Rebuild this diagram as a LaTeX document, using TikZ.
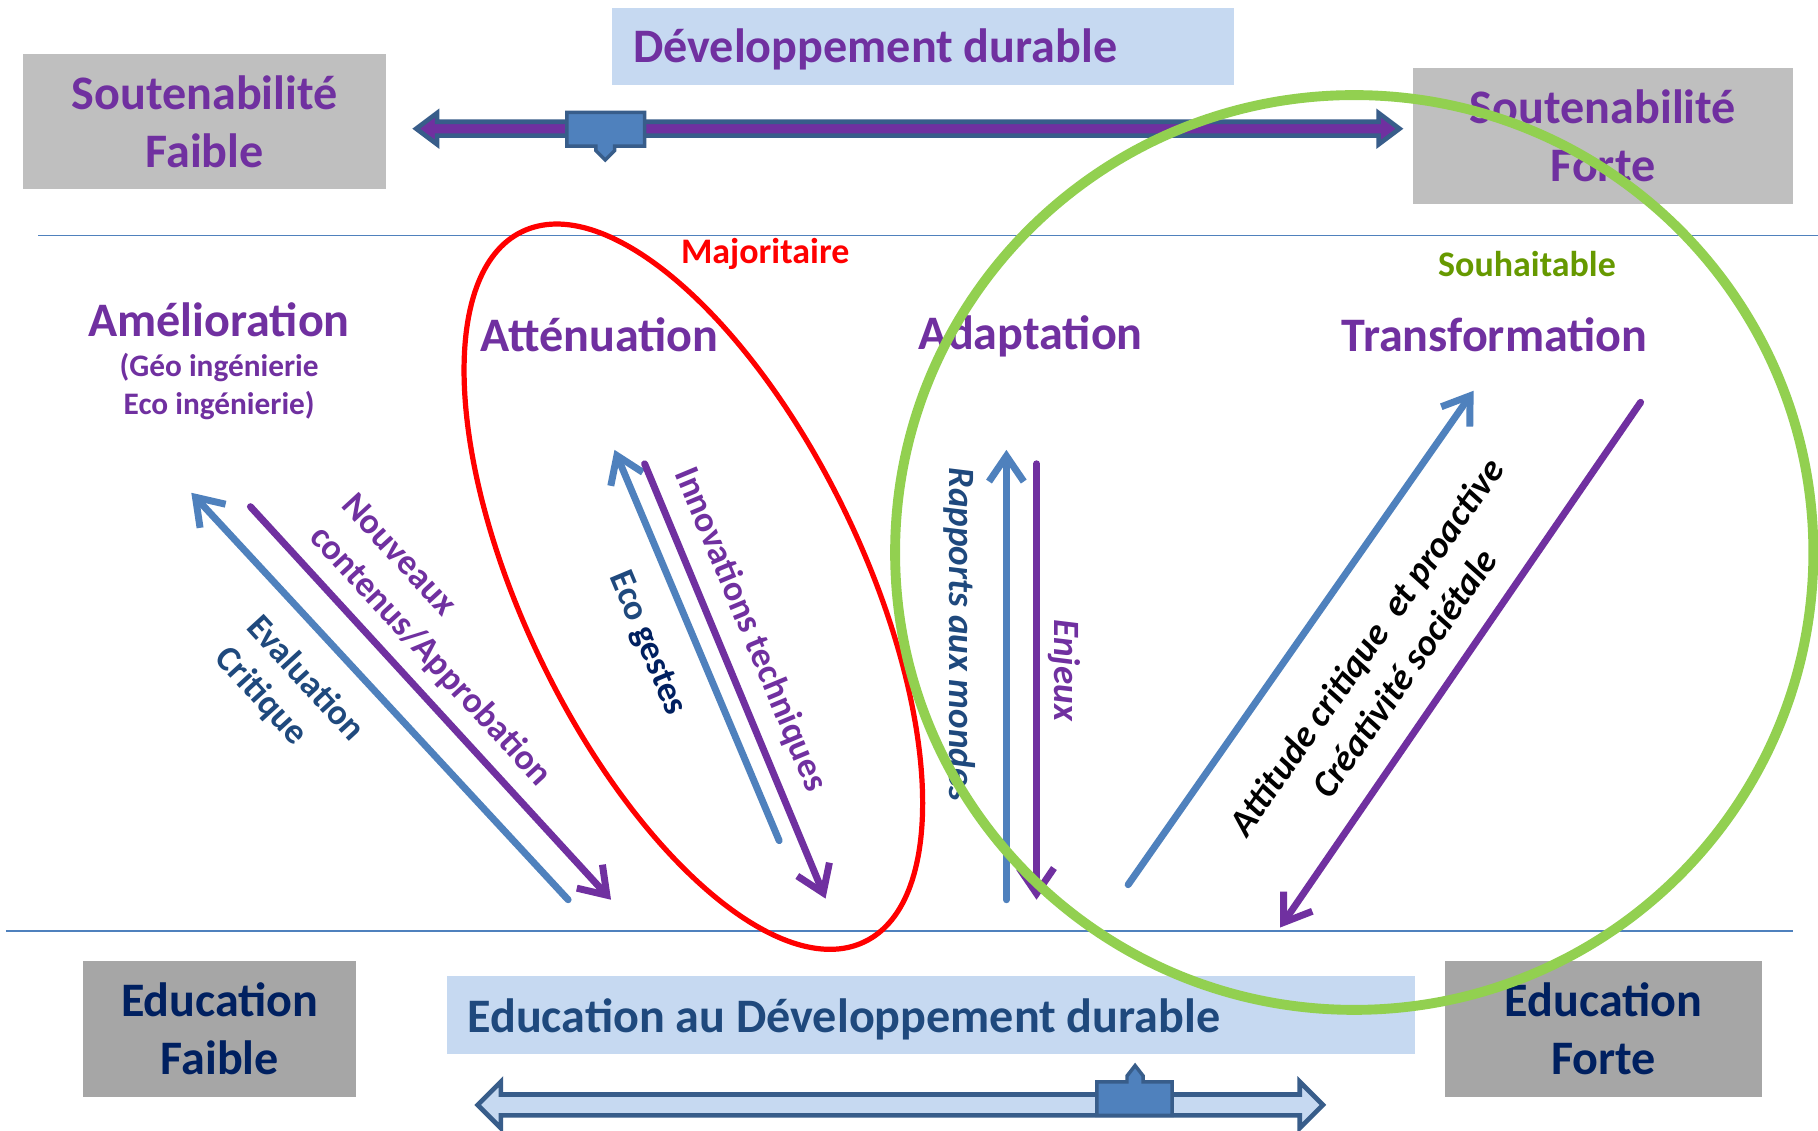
\documentclass[tikz,border=0pt]{standalone}
\usepackage{fontspec}
\setmainfont{Carlito}
\usepackage{xcolor}
\usepackage{tikz}
\usetikzlibrary{arrows.meta}

\definecolor{pourpre}{HTML}{7030A0}
\definecolor{bleuclair}{HTML}{C6D9F1}
\definecolor{bleumoyen}{HTML}{4F81BD}
\definecolor{bleufonce}{HTML}{385D8A}
\definecolor{bleutexte}{HTML}{1F497D}
\definecolor{marine}{HTML}{002060}
\definecolor{grisclair}{HTML}{BFBFBF}
\definecolor{grisfonce}{HTML}{A6A6A6}
\definecolor{vertclair}{HTML}{92D050}
\definecolor{vertolive}{HTML}{669900}
\newcommand{\taille}[2]{\fontsize{#1}{#2}\selectfont}

\begin{document}
\begin{tikzpicture}[x=1pt,y=-1pt,
    boite/.style={inner sep=0pt,align=center,font=\bfseries\taille{41.5}{50}},
    titre/.style={inner sep=0pt,align=center,text=pourpre,font=\bfseries\taille{41.5}{50}},
    etiq/.style={inner sep=0pt,font=\bfseries\taille{31}{38}},
    etiqit/.style={inner sep=0pt,font=\bfseries\itshape\taille{32}{40}},
    bleue/.style={draw=bleumoyen,line width=6pt,line cap=round,-{Straight Barb[length=22pt,width=30pt]}},
    violette/.style={draw=pourpre,line width=6pt,line cap=round,-{Straight Barb[length=22pt,width=30pt]}},
    trait/.style={draw=bleumoyen,line width=1.5pt}]
    \fill[white] (0,0) rectangle (1568,975);
    \useasboundingbox (0,0) rectangle (1568,975);

    \coordinate (haut1) at (33,203);
    \coordinate (haut2) at (1568,203);
    \coordinate (bas1) at (5,803);
    \coordinate (bas2) at (1546,803);
    \draw[trait] (haut1) -- (haut2);
    \draw[trait] (bas1) -- (bas2);

    \node[boite,fill=grisclair,text=pourpre,minimum width=313pt,minimum height=116pt] (sfaible) at (176.5,105) {Soutenabilité\\Faible};
    \node[boite,fill=grisclair,text=pourpre,minimum width=327pt,minimum height=117pt] (sforte) at (1382.5,117.5) {Soutenabilité\\Forte};
    \node[fill=bleuclair,anchor=west,minimum width=536pt,minimum height=66pt] (devboite) at (528,40) {};
    \node[boite,text=pourpre,anchor=west] (devdur) at (546,43) {Développement durable};

    \draw[fill=pourpre,draw=bleufonce,line width=4pt] (359,111) -- (377,97.5) -- (377,105) -- (1189,105) -- (1189,97.5) -- (1207,111) -- (1189,124.5) -- (1189,117) -- (377,117) -- (377,124.5) -- cycle;
    \draw[fill=bleumoyen,draw=bleufonce,line width=3pt] (489,97) -- (556,97) -- (556,126) -- (530,126) -- (530,130) -- (522,138) -- (514,130) -- (514,126) -- (489,126) -- cycle;

    \node[boite,fill=grisfonce,text=marine,minimum width=235pt,minimum height=117pt] (efaible) at (189.5,887.5) {Education\\Faible};
    \node[boite,fill=grisfonce,text=marine,minimum width=274pt,minimum height=117pt] (eforte) at (1383,887.5) {Education\\Forte};
    \node[fill=bleuclair,anchor=west,minimum width=835pt,minimum height=67pt] (eddboite) at (385,875.5) {};
    \node[boite,text=bleutexte,anchor=west] (edd) at (403,879) {Education au Développement durable};

    \draw[fill=bleuclair,draw=bleufonce,line width=4pt] (412,953) -- (432,933) -- (432,944) -- (1121,944) -- (1121,933) -- (1141,953) -- (1121,973) -- (1121,962) -- (432,962) -- (432,973) -- cycle;
    \draw[fill=bleumoyen,draw=bleufonce,line width=3pt] (946,962) -- (946,933) -- (972,933) -- (972,928) -- (979,919) -- (986,928) -- (986,933) -- (1011,933) -- (1011,962) -- cycle;

    \node[etiq,text=red] (major) at (660,219) {Majoritaire};
    \node[etiq,text=vertolive] (souhait) at (1317,228) {Souhaitable};

    \node[titre] (amelio) at (189,276) {Amélioration};
    \node[titre,font=\bfseries\taille{27}{33}] (geo) at (189,333.5) {(Géo ingénierie\\Eco ingénierie)};
    \node[titre] (attenu) at (517,289) {Atténuation};
    \node[titre] (adapt) at (889,290) {Adaptation};
    \node[titre] (transf) at (1289,289) {Transformation};

    \coordinate (evalDebut) at (490,776);
    \coordinate (evalFin) at (165,425);
    \coordinate (apprDebut) at (216,437);
    \coordinate (apprFin) at (527,776);
    \coordinate (ecoDebut) at (672,725);
    \coordinate (ecoFin) at (530,388);
    \coordinate (innovDebut) at (556,400);
    \coordinate (innovFin) at (712,775);
    \coordinate (rappDebut) at (868,776);
    \coordinate (rappFin) at (868,388);
    \coordinate (enjDebut) at (894,400);
    \coordinate (enjFin) at (894,776);
    \coordinate (attDebut) at (973,763);
    \coordinate (attFin) at (1271,337);
    \coordinate (creaDebut) at (1415,347);
    \coordinate (creaFin) at (1104,800);

    \draw[bleue] (evalDebut) -- (evalFin);
    \draw[violette] (apprDebut) -- (apprFin);
    \draw[bleue] (ecoDebut) -- (ecoFin);
    \draw[violette] (innovDebut) -- (innovFin);
    \draw[bleue] (rappDebut) -- (rappFin);
    \draw[violette] (enjDebut) -- (enjFin);
    \draw[bleue] (attDebut) -- (attFin);
    \draw[violette] (creaDebut) -- (creaFin);

    \node[etiq,text=pourpre,rotate=-47.5] (nouv) at (345,478) {Nouveaux};
    \node[etiq,text=pourpre,rotate=-47.5] (contenus) at (371,566) {contenus/Approbation};
    \node[etiq,text=bleutexte,rotate=-47.5] (evalu) at (265,584) {Evaluation};
    \node[etiq,text=bleutexte,rotate=-47.5] (critiq) at (225,601) {Critique};
    \node[etiq,text=pourpre,rotate=-67.4] (innov) at (647,543) {Innovations techniques};
    \node[etiq,text=marine,rotate=-67.4] (ecog) at (558,555) {{\color{bleutexte}Eco} gestes};
    \node[etiqit,text=bleutexte,rotate=-90] (rapports) at (828,547) {Rapports aux mondes};
    \node[etiqit,text=pourpre,rotate=-90] (enjeux) at (918,578) {Enjeux};
    \node[etiqit,text=black,rotate=55,align=center] (attitude) at (1194.5,569) {Attitude critique\ \ et proactive\\Créativité sociétale};

    \draw[red,line width=4.5pt,rotate around={-64.25:(598,506)}] (598,506) ellipse [x radius=340pt,y radius=146pt];
    \draw[vertclair,line width=8.5pt] (1168,476.5) ellipse [x radius=396pt,y radius=394.5pt];
\end{tikzpicture}
\end{document}
